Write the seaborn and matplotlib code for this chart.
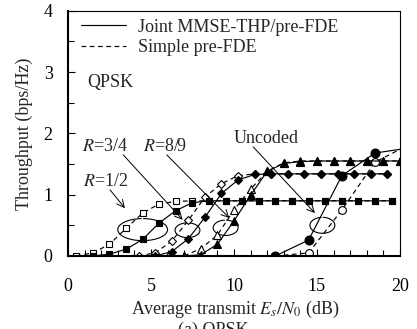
import numpy as np
import pandas as pd
import matplotlib
matplotlib.use("Agg")
import matplotlib.pyplot as plt
from matplotlib.patches import Arc
import seaborn as sns

# Throughput (bps/Hz) vs average transmit Es/N0 (dB)
x_r12 = [0.5, 1.5, 2.5, 3.5, 4.5, 5.5, 6.5, 7.5, 8.5, 9.5, 10.5, 11.5, 12.5, 13.5, 14.5, 15.5, 16.5, 17.5, 18.5, 19.5]
simple_r12 = [0.0, 0.05, 0.19, 0.45, 0.70, 0.85, 0.89, 0.90, 0.90, 0.90, 0.90, 0.90, 0.90, 0.90, 0.90, 0.90, 0.90, 0.90, 0.90, 0.90]
joint_r12 = [None, 0.0, 0.03, 0.11, 0.27, 0.54, 0.74, 0.87, 0.90, 0.90, 0.90, 0.90, 0.90, 0.90, 0.90, 0.90, 0.90, 0.90, 0.90, 0.90]

x_r34 = [4.25, 5.25, 6.25, 7.25, 8.25, 9.25, 10.25, 11.25, 12.25, 13.25, 14.25, 15.25, 16.25, 17.25, 18.25, 19.25]
simple_r34 = [0.0, 0.05, 0.24, 0.58, 0.96, 1.18, 1.31, 1.34, 1.34, 1.34, 1.34, 1.34, 1.34, 1.34, 1.34, 1.34]
joint_r34 = [None, 0.0, 0.07, 0.28, 0.63, 1.02, 1.24, 1.33, 1.34, 1.34, 1.34, 1.34, 1.34, 1.34, 1.34, 1.34]

x_r89 = [6, 7, 8, 9, 10, 11, 12, 13, 14, 15, 16, 17, 18, 19, 20]
simple_r89 = [0.0, 0.0, 0.12, 0.34, 0.75, 1.09, 1.38, 1.52, 1.55, 1.55, 1.55, 1.55, 1.55, 1.55, 1.55]
joint_r89 = [None, 0.0, 0.02, 0.19, 0.57, 0.99, 1.38, 1.51, 1.54, 1.55, 1.55, 1.55, 1.55, 1.55, 1.55]

x_unc = [12.5, 14.5, 16.5, 18.5, 20.0]
simple_unc = [0.0, 0.05, 0.75, 1.53, 1.74]
joint_unc = [0.0, 0.26, 1.31, 1.68, 1.74]

FS = 13

sns.set_theme(style="ticks")
plt.rcParams["font.family"] = ["Liberation Serif", "DejaVu Serif"]
plt.rcParams["mathtext.fontset"] = "stix"
plt.rcParams["font.size"] = FS

fig = plt.figure(figsize=(4.17, 3.29), dpi=100)
ax = fig.add_axes([0.163, 0.222, 0.796, 0.745])


def draw(xs, ys, marker, filled, ms, dashed, markevery=None):
    df = pd.DataFrame({"x": xs, "y": ys}).dropna()
    kw = dict(color="black", linewidth=0.85, marker=marker, markersize=ms,
              markeredgecolor="black", markeredgewidth=0.8,
              markerfacecolor="black" if filled else "white")
    if dashed:
        kw["dashes"] = (4, 3)
    if markevery is not None:
        kw["markevery"] = markevery
    sns.lineplot(data=df, x="x", y="y", ax=ax, sort=False, **kw)


# simple pre-FDE first (dashed, open markers), joint on top
draw(x_r12, simple_r12, "s", False, 5.0, True)
draw(x_r34, simple_r34, "D", False, 4.4, True)
draw(x_r89, simple_r89, "^", False, 6.0, True)
draw(x_unc, simple_unc, "o", False, 5.6, True, markevery=[0, 1, 2, 3])
draw(x_r12, joint_r12, "s", True, 5.0, False)
draw(x_r34, joint_r34, "D", True, 4.4, False)
draw(x_r89, joint_r89, "^", True, 6.0, False)
draw(x_unc, joint_unc, "o", True, 6.4, False, markevery=[0, 1, 2, 3])

# legend
ax.plot([], [], color="black", lw=0.85, label="Joint MMSE-THP/pre-FDE")
ax.plot([], [], color="black", lw=0.85, dashes=(4, 3), label="Simple pre-FDE")
ax.legend(loc="upper left", bbox_to_anchor=(0.0, 1.02), frameon=False,
          handlelength=2.5, handletextpad=0.7, labelspacing=0.2,
          fontsize=FS, borderaxespad=0.3)

# group loops and arrows
loops = [(4.5, 0.43, 3.0, 0.36), (7.2, 0.42, 1.5, 0.24),
         (9.5, 0.46, 1.5, 0.25), (15.33, 0.5, 1.5, 0.26)]
for cx, cy, w, h in loops:
    ax.add_patch(Arc((cx, cy), w, h, theta1=110, theta2=440, color="black", lw=0.8))

arrow = dict(arrowstyle="->", color="black", lw=0.7, shrinkA=0, shrinkB=0)
ax.annotate("", xy=(3.43, 0.78), xytext=(2.53, 1.08), arrowprops=arrow)
ax.annotate("", xy=(6.91, 0.59), xytext=(3.33, 1.65), arrowprops=arrow)
ax.annotate("", xy=(9.72, 0.62), xytext=(5.95, 1.65), arrowprops=arrow)
ax.annotate("", xy=(14.88, 0.70), xytext=(11.16, 1.78), arrowprops=arrow)

ax.text(0.88, 1.21, "$R$=1/2", va="center", ha="left")
ax.text(0.82, 1.78, "$R$=3/4", va="center", ha="left")
ax.text(4.54, 1.78, "$R$=8/9", va="center", ha="left")
ax.text(9.96, 1.92, "Uncoded", va="center", ha="left")
ax.text(1.16, 2.83, "QPSK", va="center", ha="left")

ax.set_xlim(0, 20)
ax.set_ylim(0, 4)
ax.set_xticks([0, 5, 10, 15, 20])
ax.set_xticks(np.arange(0, 21, 1), minor=True)
ax.set_yticks([0, 1, 2, 3, 4])
ax.set_yticks(np.arange(0, 4.01, 0.5), minor=True)
ax.tick_params(axis="both", which="both", direction="in", colors="black",
               width=0.8, labelsize=FS)
ax.tick_params(axis="both", which="major", length=5)
ax.tick_params(axis="both", which="minor", length=4)
ax.tick_params(axis="x", which="both", pad=16)
ax.tick_params(axis="y", which="both", pad=11)

for side in ["left", "bottom"]:
    ax.spines[side].set_linewidth(1.5)
for side in ["top", "right"]:
    ax.spines[side].set_linewidth(0.8)
for s in ax.spines.values():
    s.set_color("black")

ax.set_xlabel("Average transmit $E_s/N_0$ (dB)", fontsize=FS)
ax.set_ylabel("Throughput (bps/Hz)", fontsize=FS)
ax.xaxis.set_label_coords(0.503, -0.175)
ax.yaxis.set_label_coords(-0.13, 0.5)
ax.xaxis.label.set_va("top")
ax.yaxis.label.set_va("center")

fig.text(0.512, 0.021, "(a) QPSK", ha="center", va="top", fontsize=FS)

fig.savefig("out.png", dpi=100)
plt.close(fig)
